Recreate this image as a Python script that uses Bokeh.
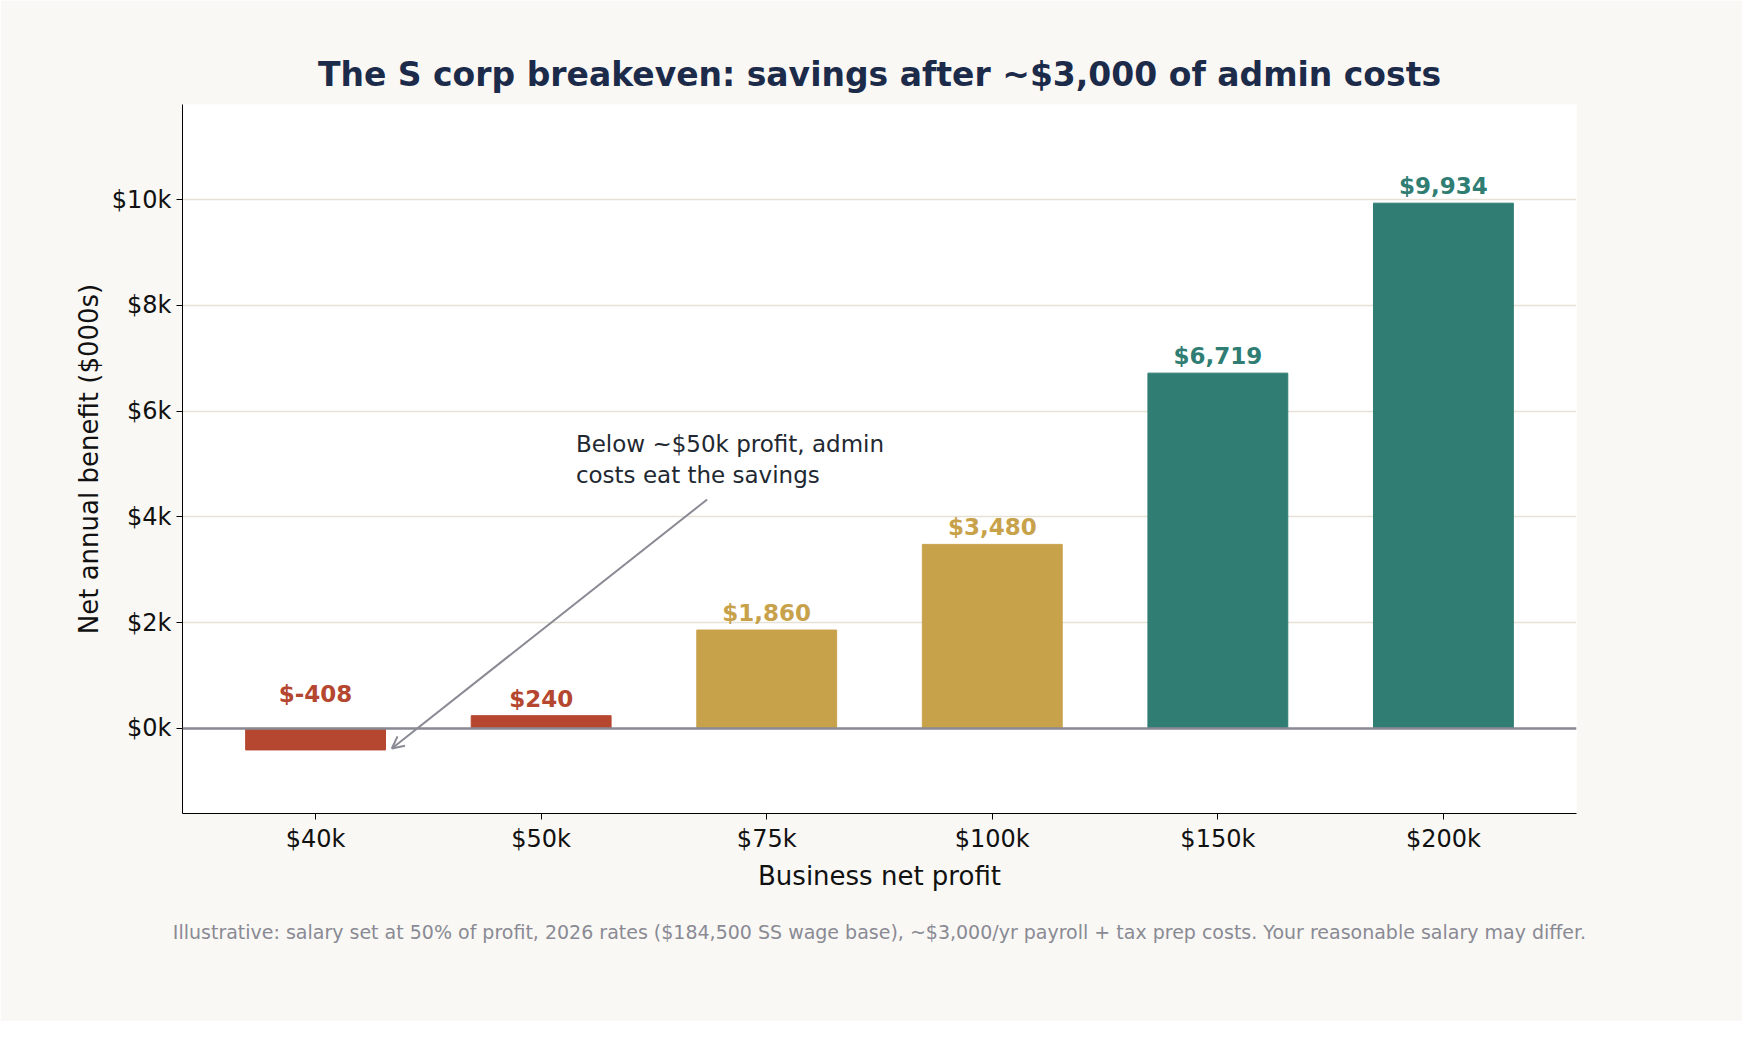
from bokeh.plotting import figure
from bokeh.models import ColumnDataSource, Range1d, FixedTicker, CustomJSTickFormatter, Label, Arrow, OpenHead, Title, Span
from bokeh.embed import file_html
from bokeh.resources import INLINE

categories = ["$40k", "$50k", "$75k", "$100k", "$150k", "$200k"]
values = [-408, 240, 1860, 3480, 6719, 9934]
colors = ["#b5462f", "#b5462f", "#c8a24b", "#c8a24b", "#2f7d73", "#2f7d73"]
labels = ["$-408", "$240", "$1,860", "$3,480", "$6,719", "$9,934"]

xs = list(range(len(categories)))
src = ColumnDataSource(dict(x=xs, top=values, color=colors, lab=labels,
                            ly=[max(v, 0) + (330 if v < 0 else 0) for v in values]))

FONT = "DejaVu Sans"
p = figure(width=1742, height=1021, output_backend="svg", toolbar_location=None,
           x_range=Range1d(-0.59, 5.59), y_range=Range1d(-1610, 11800),
           min_border_left=182, min_border_right=166, min_border_top=104, min_border_bottom=208,
           background_fill_color="white", border_fill_color="#f9f8f5")
p.outline_line_color = None
p.title = Title(text="The S corp breakeven: savings after ~$3,000 of admin costs", align="center",
                text_font=FONT, text_font_size="33px", text_color="#1c2b4a", text_font_style="bold",
                standoff=22)

p.vbar(x="x", top="top", bottom=0, width=0.62, color="color", source=src)
p.text(x="x", y="ly", text="lab", text_color="color", text_align="center", text_baseline="bottom",
       y_offset=-4, text_font_size="23px", text_font_style="bold", text_font={"value": FONT}, source=src)
p.add_layout(Span(location=0, dimension="width", line_color="#8a8a94", line_width=2.5))

p.xaxis.ticker = FixedTicker(ticks=xs)
p.xaxis.major_label_overrides = {i: c for i, c in enumerate(categories)}
p.yaxis.ticker = FixedTicker(ticks=[0, 2000, 4000, 6000, 8000, 10000])
p.yaxis.formatter = CustomJSTickFormatter(code="return '$' + (tick/1000) + 'k';")
p.xaxis.axis_label = "Business net profit"
p.yaxis.axis_label = "Net annual benefit ($000s)"
for ax in (p.xaxis, p.yaxis):
    ax.major_label_text_font = FONT
    ax.major_label_text_font_size = "24px"
    ax.major_label_text_color = "#111111"
    ax.axis_label_text_font = FONT
    ax.axis_label_text_font_size = "26px"
    ax.axis_label_text_font_style = "normal"
    ax.axis_label_text_color = "#111111"
    ax.minor_tick_line_color = None
    ax.major_tick_in = 0
    ax.major_tick_out = 6
    ax.axis_line_color = "black"
p.xgrid.grid_line_color = None
p.ygrid.grid_line_color = "#e6e1d6"
p.ygrid.grid_line_width = 1.5

p.add_layout(Label(x=1.154, y=5620, text="Below ~$50k profit, admin\ncosts eat the savings",
                   text_font=FONT, text_font_size="23px", text_color="#222831", text_baseline="top"))
p.add_layout(Arrow(x_start=1.736, y_start=4330, x_end=0.338, y_end=-380,
                   line_color="#8a8a94", line_width=2,
                   end=OpenHead(size=12, line_color="#8a8a94", line_width=2)))
p.add_layout(Title(text="Illustrative: salary set at 50% of profit, 2026 rates ($184,500 SS wage base), ~$3,000/yr payroll + tax prep costs. Your reasonable salary may differ.",
                   text_font=FONT, text_font_size="19px", text_color="#8a8a94", text_font_style="normal",
                   align="center", standoff=50), "below")

open("out.html", "w").write(file_html(p, INLINE))
